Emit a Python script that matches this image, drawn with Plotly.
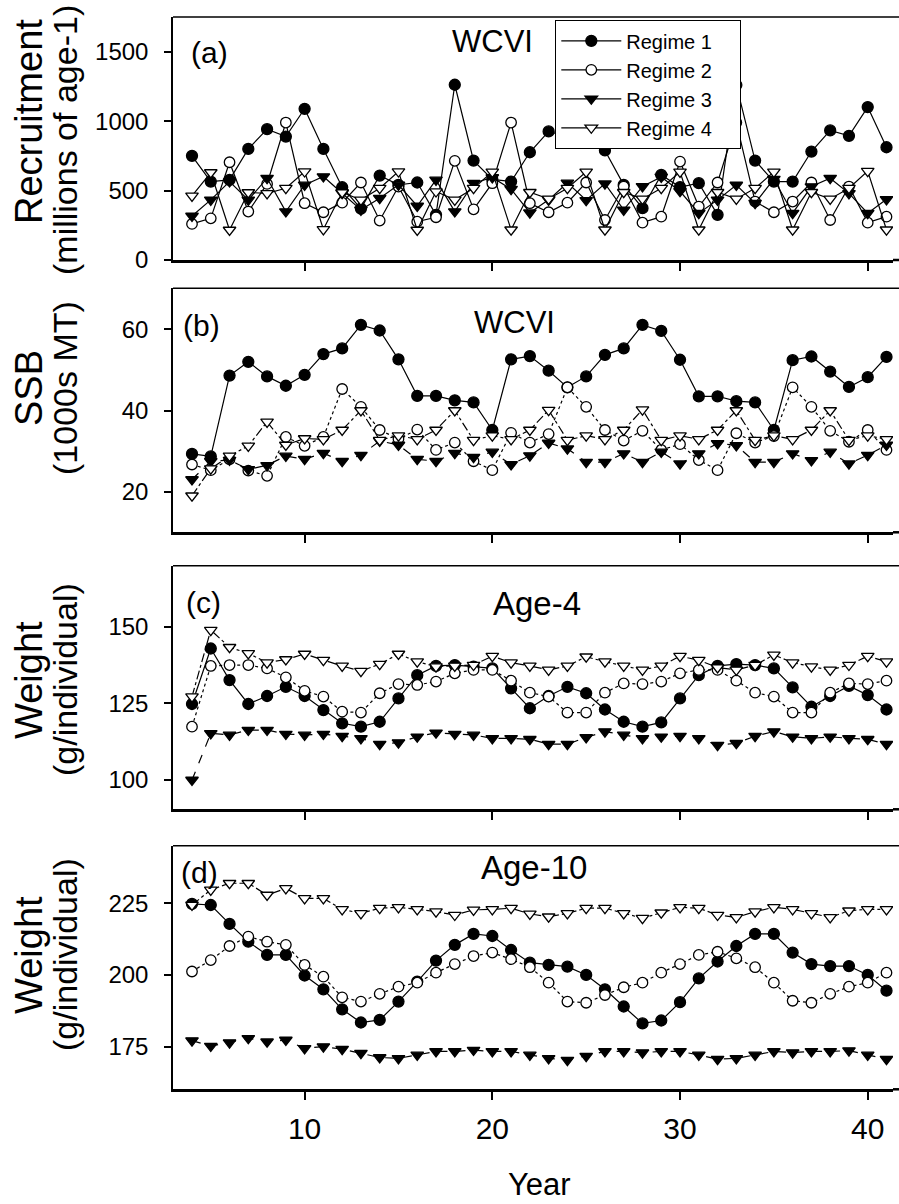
import plotly.graph_objects as go

years = list(range(4, 42))

# Panel (a) Recruitment (millions of age-1)
rec_r1 = [750, 565, 577, 800, 942, 889, 1089, 800, 524, 370, 608, 541, 558, 325, 1262, 716, 580,
          565, 776, 926, 889, 1089, 789, 541, 373, 613, 525, 553, 325, 1260, 716, 565, 565, 781, 933, 894, 1101, 812]
rec_r2 = [260, 300, 704, 349, 548, 990, 409, 344, 413, 558, 284, 529, 276, 308, 714, 365, 553,
          990, 409, 344, 413, 558, 288, 529, 269, 312, 709, 385, 558, 990, 421, 344, 421, 558, 288, 529, 269, 312]
rec_r3 = [317, 433, 565, 433, 589, 349, 541, 601, 481, 361, 445, 541, 389, 577, 349, 553, 594,
          510, 341, 433, 555, 430, 550, 361, 530, 598, 495, 337, 433, 540, 410, 583, 337, 529, 589, 480, 337, 437]
rec_r4 = [462, 630, 216, 486, 480, 517, 637, 221, 486, 433, 517, 637, 216, 493, 433, 517, 635,
          218, 488, 440, 517, 635, 218, 488, 440, 517, 635, 218, 488, 440, 517, 635, 218, 488, 440, 517, 640, 218]

# Panel (b) SSB (1000s MT)
ssb_r1 = [29.3, 28.7, 48.6, 52.0, 48.4, 46.1, 48.8, 53.9, 55.3, 61.1, 59.7, 52.6, 43.6, 43.6, 42.5, 42.0, 35.2,
          52.6, 53.4, 49.8, 45.7, 48.4, 53.7, 55.3, 61.1, 59.6, 52.5, 43.5, 43.5, 42.3, 42.0, 35.2, 52.4, 53.3, 49.6, 45.8, 48.2, 53.2]
ssb_r2 = [26.7, 25.3, 28.0, 25.2, 23.9, 33.5, 31.3, 33.5, 45.3, 40.9, 35.2, 33.0, 35.3, 30.3, 32.1, 27.5, 25.3,
          34.5, 32.1, 34.2, 45.7, 40.9, 35.2, 32.6, 35.0, 30.3, 31.7, 27.8, 25.3, 34.4, 32.1, 33.7, 45.7, 40.9, 35.0, 32.3, 35.2, 30.3]
ssb_r3 = [23.0, 27.5, 27.8, 25.5, 26.5, 28.8, 28.0, 29.5, 27.5, 29.0, 32.5, 31.5, 28.0, 27.5, 29.5, 28.5, 29.8,
          26.7, 28.9, 32.0, 30.6, 27.3, 27.3, 29.4, 27.3, 29.8, 26.9, 29.4, 31.9, 31.4, 27.3, 27.3, 29.4, 27.7, 29.8, 26.9, 29.0, 31.5]
ssb_r4 = [19.0, 25.7, 28.8, 31.3, 37.2, 31.5, 33.1, 32.9, 35.2, 40.0, 32.7, 33.8, 32.9, 35.2, 40.0, 32.7, 33.8,
          32.9, 35.2, 40.1, 32.7, 33.8, 32.9, 35.2, 40.2, 32.7, 33.8, 32.9, 35.2, 40.0, 32.7, 33.8, 32.9, 35.2, 40.0, 32.7, 33.8, 32.9]

# Panel (c) Age-4 weight (g/individual)
w4_r1 = [124.8, 142.9, 132.6, 124.8, 127.4, 130.4, 127.4, 122.8, 118.5, 117.4, 119.0, 126.6, 134.2, 137.2, 137.5, 137.0, 136.4,
         129.9, 123.4, 127.4, 130.4, 128.3, 123.0, 119.0, 117.4, 118.8, 126.6, 134.2, 137.2, 137.8, 137.5, 136.4, 130.2, 123.9, 127.4, 130.7, 127.7, 123.0]
w4_r2 = [117.4, 137.2, 137.5, 137.5, 136.4, 133.5, 129.1, 127.2, 122.3, 122.0, 128.3, 131.3, 131.0, 132.1, 134.8, 135.9, 135.9,
         132.4, 128.5, 127.2, 122.0, 122.0, 128.5, 131.5, 131.3, 132.1, 134.8, 135.9, 135.9, 132.4, 128.5, 127.2, 122.0, 122.0, 128.5, 131.5, 131.3, 132.4]
w4_r3 = [100.0, 115.2, 114.7, 116.3, 116.3, 115.0, 114.7, 115.0, 114.3, 113.6, 111.7, 112.2, 114.1, 115.4, 115.0, 114.7, 113.6,
         113.6, 113.3, 111.7, 111.7, 113.9, 115.8, 114.7, 113.6, 114.1, 114.3, 113.6, 111.4, 112.0, 114.3, 115.8, 114.1, 113.6, 114.1, 113.6, 113.3, 111.7]
w4_r4 = [127.2, 148.9, 143.3, 141.3, 138.3, 139.3, 141.1, 139.1, 137.2, 135.5, 137.8, 141.1, 138.6, 137.0, 137.2, 137.5, 140.4,
         138.3, 137.2, 135.9, 137.2, 140.2, 138.6, 137.2, 135.9, 137.2, 140.4, 139.1, 136.7, 135.9, 137.5, 140.8, 138.3, 137.0, 135.9, 137.5, 140.4, 138.6]

# Panel (d) Age-10 weight (g/individual)
w10_r1 = [224.8, 224.4, 217.8, 211.6, 207.0, 207.0, 199.8, 195.0, 188.0, 183.4, 184.3, 190.7, 197.7, 205.0, 210.5, 214.3, 213.6,
          208.7, 204.3, 203.5, 202.9, 200.0, 195.0, 189.0, 183.1, 184.1, 190.5, 198.8, 204.7, 210.1, 214.3, 214.3, 207.8, 203.8, 203.1, 203.1, 200.0, 194.5]
w10_r2 = [201.2, 205.2, 210.1, 213.4, 211.6, 210.5, 203.5, 199.4, 192.2, 190.7, 193.4, 195.9, 197.3, 200.8, 203.8, 206.6, 207.8,
          205.5, 202.7, 197.3, 190.7, 190.3, 193.0, 195.7, 197.3, 200.8, 203.8, 207.0, 208.1, 205.8, 202.7, 197.3, 191.0, 190.3, 193.4, 195.9, 197.3, 200.8]
w10_r3 = [177.1, 175.2, 176.4, 177.9, 176.7, 177.3, 174.4, 175.0, 174.1, 172.7, 171.2, 170.9, 172.1, 173.3, 173.3, 173.8, 173.3,
          173.3, 172.1, 170.9, 170.3, 171.7, 173.3, 173.3, 172.9, 173.3, 173.3, 172.1, 170.6, 170.9, 172.1, 173.3, 172.9, 173.3, 173.3, 173.6, 172.1, 170.6]
w10_r4 = [224.4, 229.7, 232.0, 232.0, 227.9, 230.2, 226.7, 226.7, 222.9, 221.5, 223.3, 223.6, 222.9, 222.1, 220.9, 222.7, 222.9,
          223.3, 221.3, 220.3, 221.5, 223.3, 223.3, 221.5, 219.8, 221.7, 223.6, 223.3, 220.9, 220.1, 222.1, 223.6, 222.9, 221.5, 220.1, 222.4, 222.9, 222.9]

regime_names = ["Regime 1", "Regime 2", "Regime 3", "Regime 4"]
x_ticks = [10, 20, 30, 40]

panel_data = [
    [rec_r1, rec_r2, rec_r3, rec_r4],
    [ssb_r1, ssb_r2, ssb_r3, ssb_r4],
    [w4_r1, w4_r2, w4_r3, w4_r4],
    [w10_r1, w10_r2, w10_r3, w10_r4],
]
panel_yticks = [[0, 500, 1000, 1500], [20, 40, 60], [100, 125, 150], [175, 200, 225]]
panel_yranges = [[0, 1750], [10, 70.1], [90.45, 169.9], [160.1, 245.1]]
panel_letters = ["(a)", "(b)", "(c)", "(d)"]
panel_titles = ["WCVI", "WCVI", "Age-4", "Age-10"]
ytitle_l1 = ["Recruitment", "SSB", "Weight", "Weight"]
ytitle_l2 = ["(millions of age-1)", "(1000s MT)", "(g/individual)", "(g/individual)"]

# ---------------- layout geometry (pixels) ----------------
W, H = 899, 1204
FONT = "Liberation Sans, Arial, Helvetica, sans-serif"
X0 = 173
X1 = 893
PX_PER_YEAR = 18.77
x_range = [4 - (192 - X0) / PX_PER_YEAR, 4 + (X1 - 192) / PX_PER_YEAR]
panel_px = [(17, 260), (288.3, 532.3), (565.7, 809.3), (845.7, 1089.3)]
letter_pos = [(209, 53), (201, 325), (203, 602), (199, 872)]
title_pos = [(493, 42), (514, 322), (537, 603), (534, 868)]
ytitle1_y = [122, 388, 680, 955]
ytitle2_y = [140, 388, 680, 955]

def fx(p):
    return p / W

def fy(p):
    return 1 - p / H

symbols = ["circle", "circle", "triangle-down", "triangle-down"]
fills = ["black", "white", "black", "white"]
sizes = [11, 10.5, 11, 11]
dashes = ["solid", "dot", "dash", "dashdot"]

fig = go.Figure()
for i, series in enumerate(panel_data):
    suf = "" if i == 0 else str(i + 1)
    for r in range(4):
        fig.add_trace(go.Scatter(
            x=years, y=series[r], mode="lines+markers",
            xaxis="x" + suf, yaxis="y" + suf,
            name=regime_names[r] + "\u00a0\u00a0\u00a0\u00a0", showlegend=(i == 0),
            line=dict(color="black", width=1.2, dash=("solid" if i == 0 else dashes[r])),
            marker=dict(symbol=symbols[r], size=sizes[r], color=fills[r],
                        line=dict(color="black", width=1.3)),
        ))

layout = dict(
    width=W, height=H,
    margin=dict(l=0, r=0, t=0, b=0),
    paper_bgcolor="white", plot_bgcolor="white",
    font=dict(family=FONT, color="black"),
    legend=dict(x=fx(555), y=fy(20), xanchor="left", yanchor="top",
                bgcolor="white", bordercolor="black", borderwidth=1.3,
                font=dict(size=20, family=FONT), tracegroupgap=0, itemwidth=60),
    annotations=[], shapes=[],
)

for i in range(4):
    suf = "" if i == 0 else str(i + 1)
    top, bot = panel_px[i]
    layout["xaxis" + suf] = dict(
        domain=[fx(X0), fx(X1)], range=x_range, anchor="y" + suf,
        tickvals=x_ticks, ticks="outside", ticklen=8, tickwidth=1.5, tickcolor="black",
        showticklabels=(i == 3), tickfont=dict(size=30, family=FONT),
        ticklabelstandoff=3, mirror=False,
        showline=True, linewidth=2.5, linecolor="black",
        showgrid=False, zeroline=False, automargin=False,
    )
    layout["yaxis" + suf] = dict(
        domain=[fy(bot), fy(top)], range=panel_yranges[i], anchor="x" + suf,
        tickvals=panel_yticks[i], ticks="outside", ticklen=7, tickwidth=1.5, tickcolor="black",
        tickfont=dict(size=24, family=FONT), ticklabelstandoff=11, mirror=False,
        showline=True, linewidth=1.5, linecolor="black",
        showgrid=False, zeroline=False, automargin=False,
    )
    layout["shapes"].append(dict(type="line", xref="paper", yref="paper",
                                 x0=fx(X0), x1=1, y0=fy(top), y1=fy(top),
                                 line=dict(color="black", width=1.5)))
    layout["shapes"].append(dict(type="line", xref="paper", yref="paper",
                                 x0=fx(X1), x1=1, y0=fy(bot), y1=fy(bot),
                                 line=dict(color="black", width=2.5)))
    lx, ly = letter_pos[i]
    layout["annotations"].append(dict(text=panel_letters[i], x=fx(lx), y=fy(ly), xref="paper", yref="paper",
                                      showarrow=False, xanchor="center", yanchor="middle",
                                      font=dict(size=30, family=FONT)))
    tx, ty = title_pos[i]
    layout["annotations"].append(dict(text=panel_titles[i], x=fx(tx), y=fy(ty), xref="paper", yref="paper",
                                      showarrow=False, xanchor="center", yanchor="middle",
                                      font=dict(size=31 if i < 2 else 33, family=FONT)))
    layout["annotations"].append(dict(text=ytitle_l1[i], x=fx(29), y=fy(ytitle1_y[i]), xref="paper", yref="paper",
                                      showarrow=False, textangle=-90, xanchor="center", yanchor="middle",
                                      font=dict(size=38, family=FONT)))
    layout["annotations"].append(dict(text=ytitle_l2[i], x=fx(65), y=fy(ytitle2_y[i]), xref="paper", yref="paper",
                                      showarrow=False, textangle=-90, xanchor="center", yanchor="middle",
                                      font=dict(size=34, family=FONT)))

layout["annotations"].append(dict(text="Year", x=fx(539), y=fy(1184), xref="paper", yref="paper",
                                  showarrow=False, xanchor="center", yanchor="middle",
                                  font=dict(size=31, family=FONT)))

fig.update_layout(**layout)
fig.write_html("out.html", config={"displayModeBar": False},
               post_script="document.body.style.margin='0';document.body.style.overflow='hidden';")
